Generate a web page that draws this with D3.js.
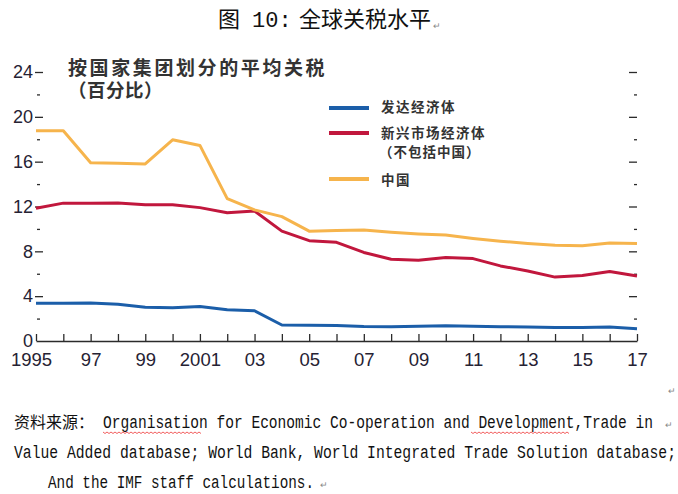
<!DOCTYPE html>
<html><head><meta charset="utf-8">
<script src="https://cdn.jsdelivr.net/npm/d3@7/dist/d3.min.js"></script>
<style>
html,body{margin:0;padding:0;background:#fff;}
svg{display:block;}
</style></head>
<body>
<svg id="chart" width="678" height="494"></svg>
<script>
const years = d3.range(1995, 2018);
const advanced = [3.37,3.37,3.4,3.28,3.02,2.97,3.08,2.78,2.7,1.43,1.4,1.38,1.3,1.28,1.32,1.35,1.32,1.28,1.25,1.2,1.2,1.25,1.1];
const emerging = [11.85,12.3,12.3,12.32,12.15,12.15,11.9,11.45,11.6,9.8,8.95,8.8,7.9,7.3,7.2,7.45,7.35,6.7,6.25,5.7,5.85,6.2,5.8];
const china = [18.75,18.75,15.9,15.85,15.8,17.95,17.45,12.7,11.7,11.1,9.8,9.85,9.9,9.7,9.55,9.45,9.15,8.9,8.7,8.55,8.5,8.75,8.7];
const seriesNames = ["发达经济体", "新兴市场经济体", "中国"];
const yMajorTicks = [0,4,8,12,16,20,24];
const yMinorTicks = [2,6,10,14,18,22];
const xLabels = {1995:"1995",1997:"97",1999:"99",2001:"2001",2003:"03",2005:"05",2007:"07",2009:"09",2011:"11",2013:"13",2015:"15",2017:"17"};
const titleParts = ["图", "10:", "全球关税水平"];
const subtitle1 = "按国家集团划分的平均关税";
const subtitle2 = "（百分比）";
const legendNote = "（不包括中国）";
const sourceLines = [
  ["资料来源：", "Organisation for Economic Co-operation and Development,Trade in"],
  ["", "Value Added database; World Bank, World Integrated Trade Solution database;"],
  ["", "And the IMF staff calculations."]
];

const svg = d3.select("#chart");
const colors = ["#1b5ea9", "#c1173d", "#f6b44c"];
const x = d3.scaleLinear().domain([1995, 2017]).range([36, 637]);
const y = d3.scaleLinear().domain([0, 24]).range([341, 72]);
const axisColor = "#2b2b2b";
const numFont = "'Liberation Sans', Arial, sans-serif";
const cjk = "'Noto Sans CJK SC', sans-serif";
const mono = "'Liberation Mono', 'DejaVu Sans Mono', monospace";

function mark(xp, yp) {
  svg.append("text").attr("x", xp).attr("y", yp).attr("font-family", numFont)
    .attr("font-size", 9).attr("fill", "#888").text("↵");
}

// title
const t = svg.append("text").attr("y", 27).attr("font-family", cjk)
  .attr("font-size", 22).attr("fill", "#111");
t.append("tspan").attr("x", 218).text(titleParts[0]);
t.append("tspan").attr("x", 252).attr("font-family", mono).text(titleParts[1]);
t.append("tspan").attr("x", 299).text(titleParts[2]);
mark(433, 29);

// subtitle
svg.append("text").attr("x", 68).attr("y", 75).attr("font-family", cjk)
  .attr("font-size", 19).attr("font-weight", "bold").attr("fill", "#333")
  .attr("letter-spacing", 2.6).text(subtitle1);
svg.append("text").attr("x", 68).attr("y", 97).attr("font-family", cjk)
  .attr("font-size", 18.5).attr("font-weight", "bold").attr("fill", "#333")
  .attr("letter-spacing", 0.5).text(subtitle2);

// left major ticks with labels
const leftMajor = d3.axisLeft(y).tickValues(yMajorTicks).tickSize(8).tickPadding(2).tickFormat(d3.format("d"));
const gl = svg.append("g").attr("transform", "translate(43,0)").call(leftMajor);
gl.select(".domain").remove();
gl.selectAll(".tick line").attr("stroke", axisColor).attr("stroke-width", 1.3)
  .filter(d => d === 0).remove();
gl.selectAll(".tick text").attr("font-family", numFont).attr("font-size", 18)
  .attr("fill", "#262233").attr("x", -10);
const leftMinor = d3.axisLeft(y).tickValues(yMinorTicks).tickSize(3).tickFormat("");
const glm = svg.append("g").attr("transform", "translate(40,0)").call(leftMinor);
glm.select(".domain").remove();
glm.selectAll(".tick line").attr("stroke", axisColor).attr("stroke-width", 1.3);

// right ticks
const rightMajor = d3.axisRight(y).tickValues(yMajorTicks.filter(d => d > 0)).tickSize(8).tickFormat("");
const gr = svg.append("g").attr("transform", "translate(629,0)").call(rightMajor);
gr.select(".domain").remove();
gr.selectAll(".tick line").attr("stroke", axisColor).attr("stroke-width", 1.3);
const rightMinor = d3.axisRight(y).tickValues(yMinorTicks).tickSize(3).tickFormat("");
const grm = svg.append("g").attr("transform", "translate(634,0)").call(rightMinor);
grm.select(".domain").remove();
grm.selectAll(".tick line").attr("stroke", axisColor).attr("stroke-width", 1.3);

// x axis
const xAxis = d3.axisBottom(x).tickValues(years).tickSize(-7).tickSizeOuter(0)
  .tickFormat(d => xLabels[d] || "");
const gx = svg.append("g").attr("transform", `translate(0,${y(0)})`).call(xAxis);
gx.select(".domain").attr("stroke", axisColor).attr("stroke-width", 1.5);
gx.selectAll(".tick line").attr("stroke", axisColor).attr("stroke-width", 1.3);
gx.selectAll(".tick text").attr("font-family", numFont).attr("font-size", 18.5)
  .attr("fill", "#262233").attr("y", 25).attr("dy", 0);
gx.selectAll(".tick text").filter(d => d === 1995).attr("dx", -5);

// lines
const line = d3.line().x((d, i) => x(years[i])).y(d => y(d));
[advanced, emerging, china].forEach((s, i) => {
  svg.append("path").datum(s).attr("d", line).attr("fill", "none")
    .attr("stroke", colors[i]).attr("stroke-width", 3).attr("stroke-linejoin", "round");
});

// legend
const legendY = [108, 133, 179];
const legendLabelY = [107, 133, 180];
seriesNames.forEach((n, i) => {
  svg.append("line").attr("x1", 329).attr("x2", 369).attr("y1", legendY[i]).attr("y2", legendY[i])
    .attr("stroke", colors[i]).attr("stroke-width", 4);
  svg.append("text").attr("x", 381).attr("y", legendLabelY[i]).attr("dy", "0.35em")
    .attr("font-family", cjk).attr("font-size", 13.5).attr("font-weight", "bold")
    .attr("fill", "#333").attr("letter-spacing", 1.5).text(n);
});
svg.append("text").attr("x", 379).attr("y", 152).attr("dy", "0.35em")
  .attr("font-family", cjk).attr("font-size", 13.5).attr("font-weight", "bold")
  .attr("fill", "#333").attr("letter-spacing", 1).text(legendNote);

// stray paragraph mark
mark(668, 394);

// source notes (monospace, vertically stretched to mimic a narrow Song face)
function monoText(str, x0, base, width) {
  const fs = width / (str.length * 0.6);
  const g = svg.append("g").attr("transform", `translate(${x0},${base}) scale(1,1.22)`);
  g.append("text").attr("x", 0).attr("y", 0).attr("font-family", mono)
    .attr("font-size", fs).attr("fill", "#111")
    .attr("textLength", width).attr("lengthAdjust", "spacingAndGlyphs").text(str);
}
const srcBase = [428, 458, 488];
svg.append("text").attr("x", 14).attr("y", srcBase[0]).attr("font-family", cjk)
  .attr("font-size", 16).attr("fill", "#111").text(sourceLines[0][0]);
monoText(sourceLines[0][1], 103, srcBase[0], 550);
mark(665, srcBase[0]);
monoText(sourceLines[1][1], 14, srcBase[1], 662);
monoText(sourceLines[2][1], 48, srcBase[2], 266);
mark(320, srcBase[2]);

// spell-check squiggles
function squiggle(x0, x1, yy) {
  let d = `M${x0},${yy}`;
  for (let xx = x0, k = 0; xx < x1; xx += 2, k++) d += `L${xx + 2},${yy + (k % 2 ? 0 : 1.5)}`;
  svg.append("path").attr("d", d).attr("fill", "none").attr("stroke", "#e33").attr("stroke-width", 0.8);
}
squiggle(103, 200, srcBase[0] + 4);
squiggle(471, 568, srcBase[0] + 4);
</script>
</body></html>
